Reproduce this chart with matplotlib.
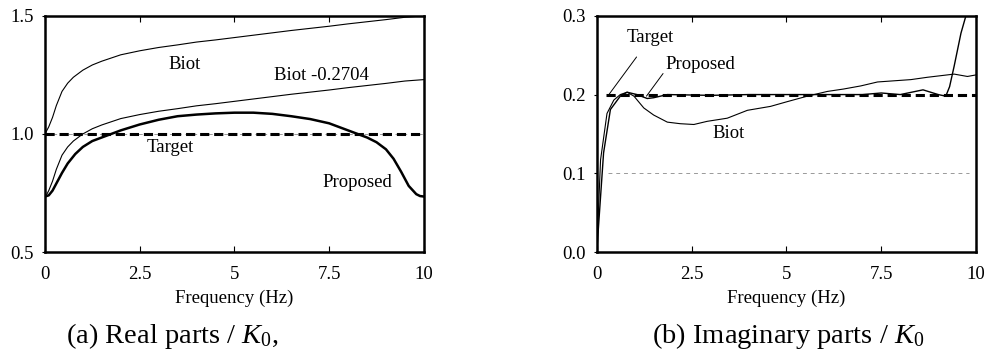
import matplotlib
matplotlib.use("Agg")
import matplotlib.pyplot as plt

plt.rcParams["font.family"] = ["Liberation Serif", "DejaVu Serif"]
plt.rcParams["mathtext.fontset"] = "custom"
plt.rcParams["mathtext.rm"] = "Liberation Serif"
plt.rcParams["mathtext.it"] = "Liberation Serif:italic"

# (a) real parts / K0
freq_biot = [0, 0.1, 0.2, 0.3, 0.45, 0.6, 0.75, 1.0, 1.25, 1.5, 2.0, 2.5, 3.0, 3.5,
             4.0, 4.5, 5.0, 5.5, 6.0, 6.5, 7.0, 7.5, 8.0, 8.5, 9.0, 9.5, 10.0]
real_biot = [1.00, 1.03, 1.07, 1.12, 1.18, 1.215, 1.24, 1.27, 1.292, 1.308, 1.335, 1.352,
             1.366, 1.377, 1.389, 1.398, 1.408, 1.418, 1.428, 1.438, 1.447, 1.456, 1.466,
             1.475, 1.484, 1.494, 1.50]
real_biot_shift = [0.73, 0.76, 0.80, 0.85, 0.91, 0.945, 0.97, 1.00, 1.022, 1.038, 1.065,
                   1.082, 1.096, 1.107, 1.119, 1.128, 1.138, 1.148, 1.158, 1.168, 1.177,
                   1.186, 1.196, 1.205, 1.214, 1.224, 1.23]
freq_prop = [0, 0.1, 0.2, 0.3, 0.45, 0.6, 0.8, 1.0, 1.25, 1.5, 1.75, 2.0, 2.5, 3.0, 3.5,
             4.0, 4.5, 5.0, 5.5, 6.0, 6.5, 7.0, 7.5, 8.0, 8.25, 8.5, 8.75, 9.0, 9.2, 9.4,
             9.6, 9.8, 9.9, 10.0]
real_prop = [0.735, 0.74, 0.76, 0.79, 0.835, 0.875, 0.915, 0.945, 0.97, 0.985, 1.0, 1.015,
             1.04, 1.06, 1.075, 1.082, 1.087, 1.09, 1.09, 1.085, 1.075, 1.063, 1.045,
             1.015, 1.0, 0.985, 0.965, 0.935, 0.895, 0.84, 0.78, 0.745, 0.737, 0.735]
real_target = 1.0

# (b) imaginary parts / K0
freq_ib = [0, 0.1, 0.27, 0.45, 0.62, 0.8, 0.98, 1.24, 1.5, 1.86, 2.2, 2.56, 2.91, 3.44,
           3.97, 4.58, 5.02, 5.55, 6.08, 6.5, 6.96, 7.4, 8.28, 8.72, 9.42, 9.77, 10.0]
imag_biot = [0.0, 0.117, 0.176, 0.193, 0.200, 0.203, 0.198, 0.183, 0.174, 0.165, 0.163,
             0.162, 0.166, 0.170, 0.180, 0.185, 0.191, 0.198, 0.204, 0.207, 0.211, 0.216,
             0.219, 0.222, 0.226, 0.223, 0.225]
freq_ip = [0, 0.18, 0.36, 0.62, 0.8, 1.06, 1.33, 1.5, 1.86, 3.0, 4.0, 5.0, 6.0, 7.0, 7.5,
           8.0, 8.6, 9.0, 9.2, 9.3, 9.42, 9.6, 9.73]
imag_prop = [0.0, 0.126, 0.181, 0.198, 0.203, 0.200, 0.195, 0.196, 0.200, 0.199, 0.200,
             0.200, 0.200, 0.200, 0.202, 0.200, 0.206, 0.200, 0.198, 0.210, 0.236, 0.278,
             0.300]
imag_target = 0.2

FS = 13.5
fig = plt.figure(figsize=(9.88, 3.52), dpi=100)
ax1 = fig.add_axes([0.0455, 0.284, 0.3835, 0.671])
ax2 = fig.add_axes([0.604, 0.284, 0.384, 0.671])

for ax in (ax1, ax2):
    ax.set_xlim(0, 10)
    ax.set_xticks([0, 2.5, 5, 7.5, 10])
    ax.set_xticklabels(["0", "2.5", "5", "7.5", "10"])
    ax.tick_params(axis="x", direction="in", top=True, length=4, width=0.8,
                   labelsize=FS, pad=10)
    ax.tick_params(axis="y", length=2, width=0.8, labelsize=FS, pad=6)
    for s in ax.spines.values():
        s.set_linewidth(1.8)
    ax.set_xlabel("Frequency (Hz)", fontsize=FS, labelpad=5)

# left panel
ax1.set_ylim(0.5, 1.5)
ax1.set_yticks([0.5, 1.0, 1.5])
ax1.set_yticklabels(["0.5", "1.0", "1.5"])
ax1.axhline(1.0, color="0.6", lw=0.7, ls=(0, (4, 4)))
ax1.plot(freq_biot, real_biot, color="k", lw=0.8)
ax1.plot(freq_biot, real_biot_shift, color="k", lw=0.8)
ax1.plot(freq_prop, real_prop, color="k", lw=1.8)
ax1.plot([0, 10], [real_target] * 2, color="k", lw=2.2, ls=(0, (3, 1.6)))
ax1.text(3.69, 1.293, "Biot", fontsize=FS, ha="center", va="center")
ax1.text(7.3, 1.246, "Biot -0.2704", fontsize=FS, ha="center", va="center")
ax1.text(3.3, 0.943, "Target", fontsize=FS, ha="center", va="center")
ax1.text(8.24, 0.795, "Proposed", fontsize=FS, ha="center", va="center")

# right panel
ax2.set_ylim(0.0, 0.3)
ax2.set_yticks([0.0, 0.1, 0.2, 0.3])
ax2.set_yticklabels(["0.0", "0.1", "0.2", "0.3"])
ax2.plot([0.3, 9.8], [0.1, 0.1], color="0.6", lw=0.7, ls=(0, (4, 4)))
ax2.plot(freq_ib, imag_biot, color="k", lw=0.8)
ax2.plot(freq_ip, imag_prop, color="k", lw=1.0, clip_on=True)
ax2.plot([0.25, 10], [imag_target] * 2, color="k", lw=2.2, ls=(0, (3, 1.6)))
ax2.annotate("Target", xy=(0.32, 0.2), xytext=(1.42, 0.272), fontsize=FS,
             ha="center", va="center",
             arrowprops=dict(arrowstyle="-", color="k", lw=0.7, shrinkA=7, shrinkB=0))
ax2.annotate("Proposed", xy=(1.31, 0.198), xytext=(2.74, 0.238), fontsize=FS,
             ha="center", va="center",
             arrowprops=dict(arrowstyle="-", color="k", lw=0.7, shrinkA=0, shrinkB=0,
                             relpos=(0, 0.2)))
ax2.text(3.48, 0.15, "Biot", fontsize=FS, ha="center", va="center")

fig.text(0.174, 0.045, r"(a) Real parts / $\mathit{K_0}$,", fontsize=20.5,
         ha="center", va="center")
fig.text(0.798, 0.045, r"(b) Imaginary parts / $\mathit{K_0}$", fontsize=20.5,
         ha="center", va="center")

fig.savefig("out.png", dpi=100)
